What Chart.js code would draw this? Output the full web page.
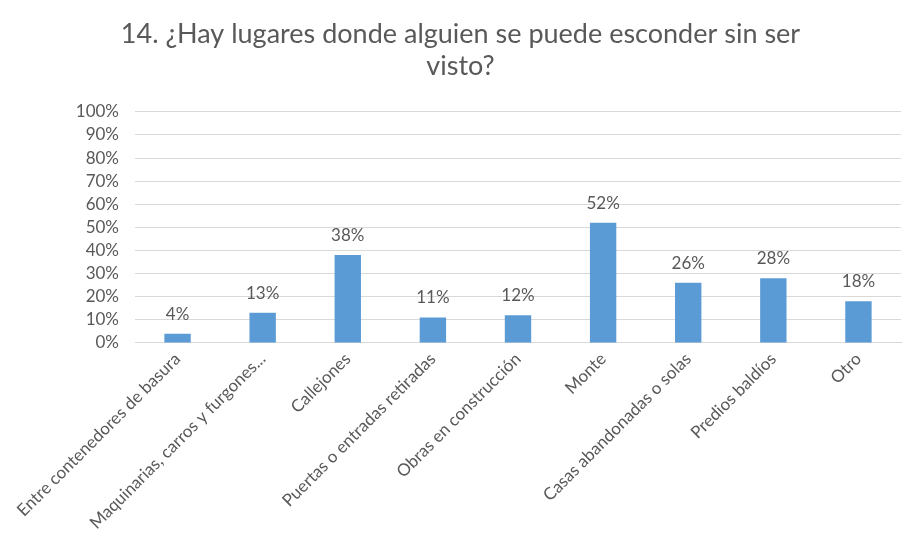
<!DOCTYPE html>
<html>
<head>
<meta charset="utf-8">
<script src="https://cdn.jsdelivr.net/npm/chart.js@4"></script>
<style>
  html,body{margin:0;padding:0;background:#fff;}
  #wrap{width:913px;height:544px;}
</style>
</head>
<body>
<div id="wrap"><canvas id="myChart1" width="913" height="544"></canvas></div>
<script>
var categories=['Entre contenedores de basura','Maquinarias, carros y furgones...','Callejones','Puertas o entradas retiradas','Obras en construcción','Monte','Casas abandonadas o solas','Predios baldíos','Otro'];
var values=[4,13,38,11,12,52,26,28,18];
var yTicks=[0,10,20,30,40,50,60,70,80,90,100];

var FONT="Lato, 'Open Sans', sans-serif";

// labels above each bar
var barLabels={
  id:'barLabels',
  afterDatasetsDraw:function(chart){
    var c=chart.ctx;
    var meta=chart.getDatasetMeta(0);
    c.save();
    c.font='17px '+FONT;
    c.fillStyle='#595959';
    c.textAlign='center';
    c.textBaseline='alphabetic';
    meta.data.forEach(function(bar,i){
      c.fillText(values[i]+'%',bar.x,bar.y-14);
    });
    c.restore();
  }
};

var ctx=document.querySelector("#myChart1").getContext("2d");
var myChart=new Chart(ctx,{
    type:"bar",
    data:{
        labels:categories,
        datasets:[{
          data:values,
          backgroundColor:'#5B9BD5',
          barPercentage:0.62,
          categoryPercentage:0.5
        }]
    },
    options:{
        responsive:false,
        animation:false,
        layout:{
          padding:{top:10,left:20,right:12,bottom:5}
        },
        scales:{
          x:{
            grid:{display:false,drawTicks:false},
            border:{color:'#D9D9D9',width:1},
            ticks:{
              color:'#595959',
              font:{family:FONT,size:17},
              maxRotation:45,minRotation:45,
              padding:6,
              autoSkip:false
            }
          },
          y:{
            min:0,max:100,
            afterBuildTicks:function(axis){
              axis.ticks=yTicks.map(function(v){return {value:v};});
            },
            afterFit:function(axis){ axis.width=115; },
            grid:{color:'#D9D9D9',lineWidth:1,drawTicks:false},
            border:{display:false},
            ticks:{
              color:'#595959',
              font:{family:FONT,size:17},
              padding:16,
              autoSkip:false,
              callback:function(v){return v+'%';}
            }
          }
        },
        plugins:{
          legend:{display:false},
          tooltip:{enabled:false},
          title:{
            display:true,
            text:['14. ¿Hay lugares donde alguien se puede esconder sin ser','visto?'],
            color:'#595959',
            font:{family:FONT,size:27,weight:'normal'},
            lineHeight:1.25,
            padding:{top:8,bottom:29}
          }
        }
    },
    plugins:[barLabels]
});
</script>
</body>
</html>
